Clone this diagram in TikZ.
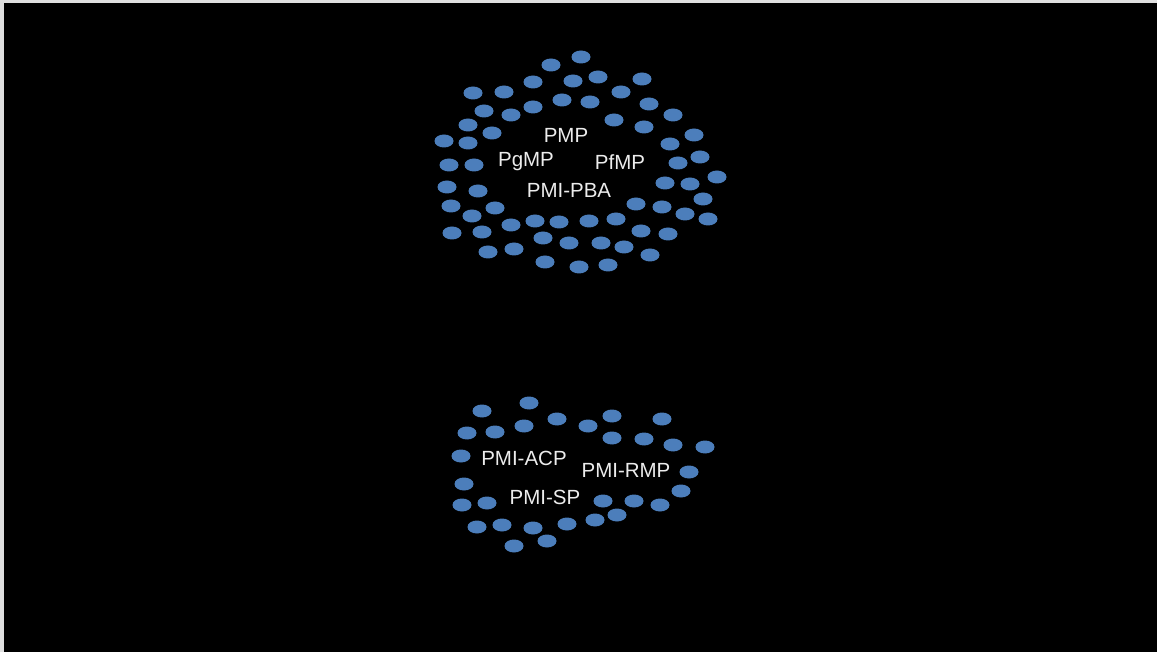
\documentclass[tikz,border=0pt]{standalone}
\usepackage{fontspec}
\setmainfont{Liberation Sans}
\definecolor{dotblue}{RGB}{76,126,187}
\definecolor{labelgray}{RGB}{236,236,236}

\tikzset{
  dot/.style={fill=dotblue},
  cert/.style={text=labelgray, font=\fontsize{20.5}{24}\selectfont, inner sep=0pt}
}

\begin{document}
\begin{tikzpicture}[x=1pt,y=-1pt]
% Frame and black slide
\fill[white!75!gray] (0,0) rectangle (1157,652);
\fill[black] (4,3) rectangle (1157,652);
\useasboundingbox (0,0) rectangle (1157,652);

% Upper cloud of dots
\foreach \x/\y in {581/57,551/65,533/82,573/81,598/77,642/79,473/93,504/92,621/92,
  484/111,511/115,533/107,562/100,590/102,649/104,468/125,492/133,614/120,644/127,673/115,
  444/141,468/143,670/144,694/135,449/165,474/165,678/163,700/157,717/177,
  447/187,478/191,665/183,690/184,703/199,451/206,472/216,495/208,636/204,662/207,
  685/214,708/219,452/233,482/232,511/225,535/221,559/222,589/221,616/219,641/231,
  668/234,488/252,514/249,543/238,569/243,601/243,624/247,650/255,545/262,579/267,608/265}
  \fill[dot] (\x,\y) ellipse (9.5 and 6.5);

% Lower cloud of dots
\foreach \x/\y in {482/411,529/403,467/433,495/432,524/426,557/419,588/426,612/416,662/419,
  612/438,644/439,673/445,705/447,461/456,689/472,464/484,681/491,462/505,487/503,
  603/501,634/501,660/505,477/527,502/525,533/528,567/524,595/520,617/515,514/546,547/541}
  \fill[dot] (\x,\y) ellipse (9.5 and 6.5);

% Labels
\node[cert] (pmp) at (566,135) {PMP};
\node[cert] (pgmp) at (526,162) {PgMP};
\node[cert] (pfmp) at (620,162) {PfMP};
\node[cert] (pba) at (569,190) {PMI-PBA};

\node[cert] (acp) at (524,458) {PMI-ACP};
\node[cert] (rmp) at (626,470) {PMI-RMP};
\node[cert] (sp) at (545,497) {PMI-SP};
\end{tikzpicture}
\end{document}
